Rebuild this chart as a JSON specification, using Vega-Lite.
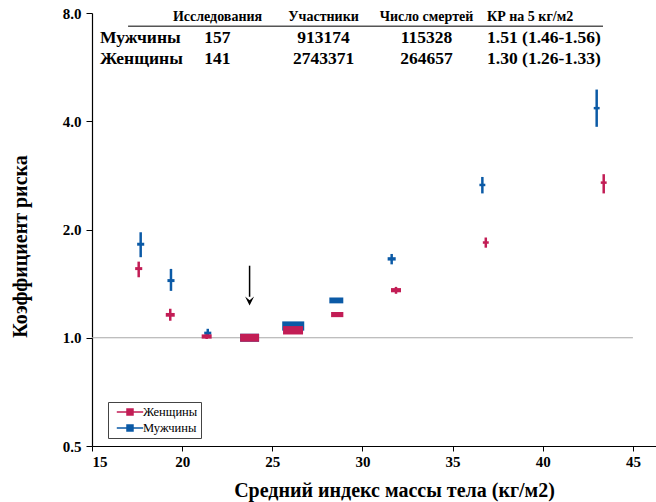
{
  "$schema": "https://vega.github.io/schema/vega-lite/v6.json",
  "width": 564,
  "height": 433,
  "autosize": {"type": "none"},
  "padding": {"left": 92, "top": 13, "right": 0, "bottom": 56},
  "background": "white",
  "config": {
    "view": {"stroke": null},
    "font": "Liberation Serif",
    "axis": {
      "labelFont": "Liberation Serif",
      "labelFontWeight": "bold",
      "labelFontSize": 15,
      "labelColor": "black",
      "domainColor": "black",
      "domainWidth": 1.2,
      "tickColor": "black",
      "tickSize": 5,
      "grid": false,
      "titleFont": "Liberation Serif",
      "titleColor": "black"
    }
  },
  "datasets": {
    "pts": [
      {"sex": "Мужчины", "bmi": 17.70, "rr": 1.82, "lo": 1.675, "hi": 1.965, "w": 10},
      {"sex": "Мужчины", "bmi": 19.38, "rr": 1.442, "lo": 1.35, "hi": 1.554, "w": 10},
      {"sex": "Мужчины", "bmi": 21.42, "rr": 1.03, "lo": 1.006, "hi": 1.059, "w": 10},
      {"sex": "Мужчины", "bmi": 23.74, "rr": 1.0, "lo": null, "hi": null, "w": 72},
      {"sex": "Мужчины", "bmi": 26.16, "rr": 1.078, "lo": null, "hi": null, "w": 97},
      {"sex": "Мужчины", "bmi": 28.55, "rr": 1.27, "lo": null, "hi": null, "w": 39},
      {"sex": "Мужчины", "bmi": 31.62, "rr": 1.657, "lo": 1.60, "hi": 1.71, "w": 13},
      {"sex": "Мужчины", "bmi": 36.65, "rr": 2.66, "lo": 2.52, "hi": 2.80, "w": 7},
      {"sex": "Мужчины", "bmi": 42.99, "rr": 4.35, "lo": 3.86, "hi": 4.9, "w": 7},
      {"sex": "Женщины", "bmi": 17.59, "rr": 1.557, "lo": 1.473, "hi": 1.628, "w": 10},
      {"sex": "Женщины", "bmi": 19.34, "rr": 1.158, "lo": 1.115, "hi": 1.204, "w": 16},
      {"sex": "Женщины", "bmi": 21.36, "rr": 1.008, "lo": 0.992, "hi": 1.024, "w": 20},
      {"sex": "Женщины", "bmi": 23.74, "rr": 1.0, "lo": null, "hi": null, "w": 72},
      {"sex": "Женщины", "bmi": 26.15, "rr": 1.049, "lo": null, "hi": null, "w": 80},
      {"sex": "Женщины", "bmi": 28.6, "rr": 1.16, "lo": null, "hi": null, "w": 30},
      {"sex": "Женщины", "bmi": 31.86, "rr": 1.356, "lo": 1.325, "hi": 1.385, "w": 20},
      {"sex": "Женщины", "bmi": 36.84, "rr": 1.84, "lo": 1.78, "hi": 1.90, "w": 7},
      {"sex": "Женщины", "bmi": 43.38, "rr": 2.70, "lo": 2.52, "hi": 2.85, "w": 7}
    ],
    "tbl": [
      {"row": "hdr", "label": "", "studies": "Исследования", "participants": "Участники", "deaths": "Число смертей", "kr": "КР на 5 кг/м2"},
      {"row": "m", "label": "Мужчины", "studies": "157", "participants": "913174", "deaths": "115328", "kr": "1.51 (1.46-1.56)"},
      {"row": "f", "label": "Женщины", "studies": "141", "participants": "2743371", "deaths": "264657", "kr": "1.30 (1.26-1.33)"}
    ],
    "arrow": [{"bmi": 23.74, "top": 1.586, "end": 1.30, "tip": 1.265}]
  },
  "layer": [
    {
      "layer": [
        {
          "data": {"values": [{"a": 1}]},
          "mark": {"type": "rule", "color": "#a8a8a8", "strokeWidth": 1},
          "encoding": {
            "x": {"datum": 15, "type": "quantitative", "scale": {"domain": [15, 46.28], "nice": false, "zero": false}},
            "x2": {"datum": 45},
            "y": {"datum": 1, "type": "quantitative", "scale": {"type": "log", "base": 2, "domain": [0.5, 8], "nice": false}}
          }
        },
        {
          "data": {"values": [{"a": 1}]},
          "mark": {"type": "rule", "color": "#555", "strokeWidth": 1.5},
          "encoding": {
            "x": {"datum": 17.0, "type": "quantitative"},
            "x2": {"datum": 43.34},
            "y": {"datum": 7.35, "type": "quantitative"}
          }
        },
        {
          "data": {"name": "arrow"},
          "mark": {"type": "rule", "color": "black", "strokeWidth": 1.5},
          "encoding": {
            "x": {"field": "bmi", "type": "quantitative"},
            "y": {"field": "top", "type": "quantitative"},
            "y2": {"field": "end"}
          }
        },
        {
          "data": {"name": "arrow"},
          "mark": {"type": "point", "filled": true, "color": "black", "opacity": 1, "shape": "M-1,-1L0,-0.2L1,-1L0,1Z", "size": 81},
          "encoding": {
            "x": {"field": "bmi", "type": "quantitative"},
            "y": {"field": "tip", "type": "quantitative"}
          }
        },
        {
          "data": {"name": "pts"},
          "transform": [{"filter": "datum.lo != null"}],
          "mark": {"type": "rule", "strokeWidth": 2.5},
          "encoding": {
            "x": {"field": "bmi", "type": "quantitative"},
            "y": {"field": "lo", "type": "quantitative"},
            "y2": {"field": "hi"},
            "color": {"field": "sex", "type": "nominal"}
          }
        },
        {
          "data": {"name": "pts"},
          "mark": {"type": "point", "filled": true, "opacity": 1, "shape": "M-1,-0.42H1V0.42H-1Z"},
          "encoding": {
            "x": {
              "field": "bmi", "type": "quantitative",
              "axis": {
                "title": "Средний индекс массы тела (кг/м2)",
                "values": [15, 20, 25, 30, 35, 40, 45],
                "labelPadding": 3,
                "titleFontSize": 20,
                "titleFontWeight": "bold",
                "titleX": 302,
                "titleY": 44,
                "titleBaseline": "middle",
                "titleAlign": "center"
              }
            },
            "y": {
              "field": "rr", "type": "quantitative",
              "axis": {
                "title": "Коэффициент риска",
                "values": [0.5, 1, 2, 4, 8],
                "format": ".1f",
                "tickSize": 6,
                "labelPadding": 5,
                "titleFontSize": 20,
                "titleFontWeight": "bold",
                "titleAngle": -90,
                "titleX": -72,
                "titleY": 233,
                "titleBaseline": "middle",
                "titleAlign": "center"
              }
            },
            "size": {"field": "w", "type": "quantitative", "scale": {"domain": [0, 100], "range": [0, 500]}, "legend": null},
            "color": {
              "field": "sex", "type": "nominal",
              "scale": {"domain": ["Женщины", "Мужчины"], "range": ["#c21d55", "#0b5aa6"]},
              "legend": {
                "title": null,
                "orient": "none",
                "legendX": 16,
                "legendY": 389,
                "strokeColor": "#444",
                "padding": 3,
                "symbolType": "M-2.2,0H2.2M-0.5,-0.5H0.5V0.5H-0.5Z",
                "symbolSize": 144,
                "symbolStrokeWidth": 1.5,
                "symbolOffset": 12,
                "symbolOpacity": 1,
                "labelFont": "Liberation Serif",
                "labelFontSize": 12.5,
                "labelColor": "black",
                "labelOffset": 6,
                "rowPadding": 2,
                "encode": {"symbols": {"update": {"stroke": {"scale": "color", "field": "value"}, "fill": {"scale": "color", "field": "value"}}}}
              }
            }
          }
        }
      ]
    },
    {
      "data": {"name": "tbl"},
      "encoding": {
        "y": {"field": "row", "type": "ordinal", "axis": null, "scale": {"domain": ["hdr", "m", "f"], "range": [4.3, 45.7], "padding": 0}},
        "size": {"condition": {"test": "datum.row === 'hdr'", "value": 14}, "value": 17.5}
      },
      "layer": [
        {"mark": {"type": "text", "align": "left", "baseline": "middle", "fontWeight": "bold", "font": "Liberation Serif", "color": "black"},
         "encoding": {"x": {"datum": 15.44, "type": "quantitative"}, "text": {"field": "label"}}},
        {"mark": {"type": "text", "align": "center", "baseline": "middle", "fontWeight": "bold", "font": "Liberation Serif", "color": "black"},
         "encoding": {"x": {"datum": 21.96, "type": "quantitative"}, "text": {"field": "studies"}}},
        {"mark": {"type": "text", "align": "center", "baseline": "middle", "fontWeight": "bold", "font": "Liberation Serif", "color": "black"},
         "encoding": {"x": {"datum": 27.84, "type": "quantitative"}, "text": {"field": "participants"}}},
        {"mark": {"type": "text", "align": "center", "baseline": "middle", "fontWeight": "bold", "font": "Liberation Serif", "color": "black"},
         "encoding": {"x": {"datum": 33.55, "type": "quantitative"}, "text": {"field": "deaths"}}},
        {"mark": {"type": "text", "align": "left", "baseline": "middle", "fontWeight": "bold", "font": "Liberation Serif", "color": "black"},
         "encoding": {"x": {"datum": 36.91, "type": "quantitative"}, "text": {"field": "kr"}}}
      ]
    }
  ],
  "resolve": {"scale": {"y": "independent", "size": "independent"}}
}
